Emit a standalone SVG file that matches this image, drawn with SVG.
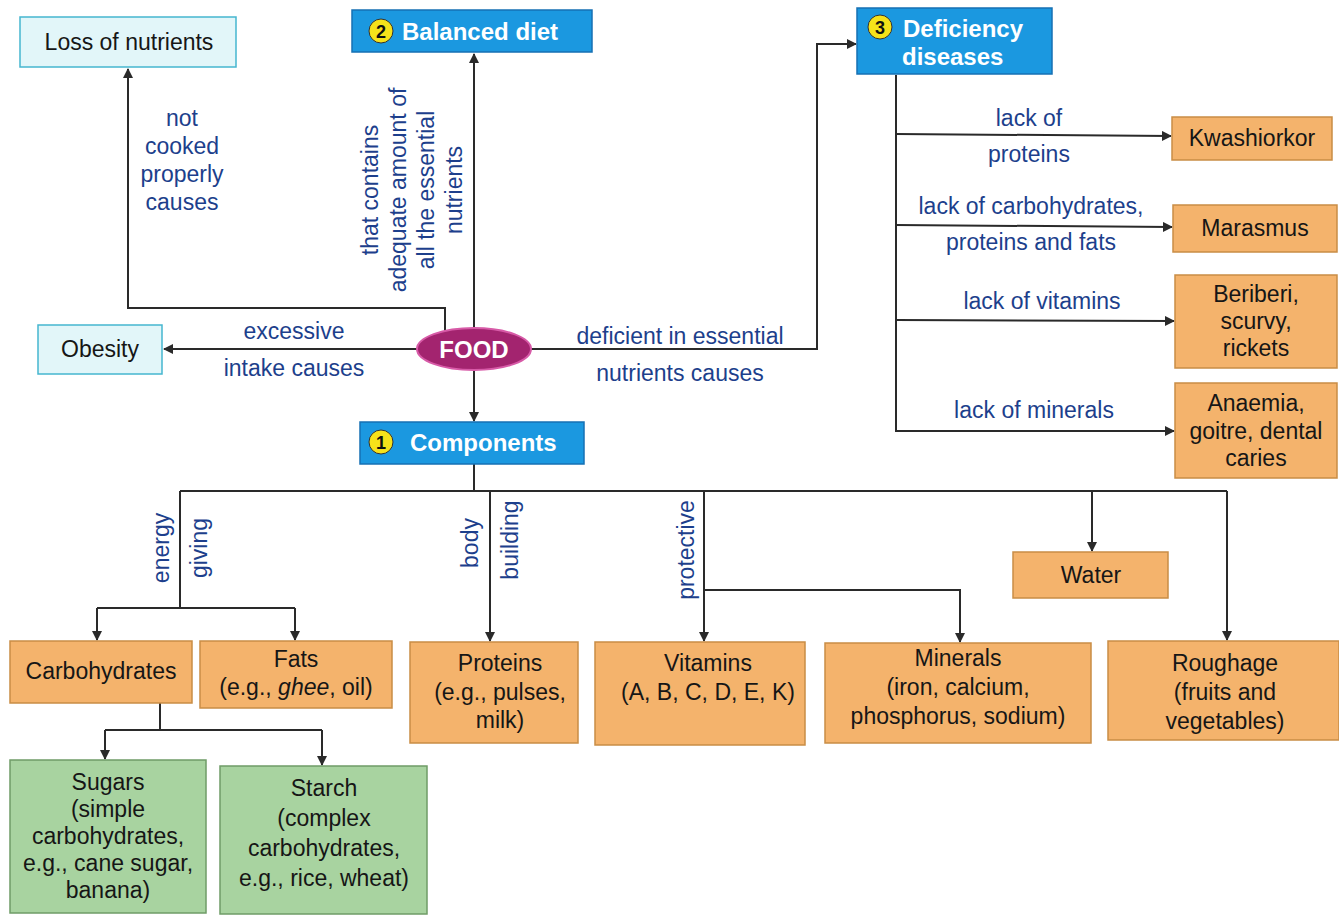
<svg xmlns="http://www.w3.org/2000/svg" width="1339" height="915" viewBox="0 0 1339 915">
<defs>
<marker id="ah" viewBox="0 0 10 10" refX="9" refY="5" markerWidth="10" markerHeight="10" markerUnits="userSpaceOnUse" orient="auto">
<path d="M0,0 L10,5 L0,10 z" fill="#2a2a2a"/>
</marker>
<style>
.t{font-family:"Liberation Sans",Arial,sans-serif;font-size:23px;fill:#161616;text-anchor:middle}
.lb{font-family:"Liberation Sans",Arial,sans-serif;font-size:23px;fill:#1d3f8c;text-anchor:middle}
.hd{font-family:"Liberation Sans",Arial,sans-serif;font-size:24px;font-weight:bold;fill:#ffffff}
.num{font-family:"Liberation Sans",Arial,sans-serif;font-size:18px;font-weight:bold;fill:#111;text-anchor:middle}
.cy{fill:#e2f6f9;stroke:#45b6cf;stroke-width:1.5}
.bl{fill:#1b98e0;stroke:#1670b4;stroke-width:1.5}
.or{fill:#f4b36c;stroke:#c98d45;stroke-width:1.5}
.gr{fill:#a8d3a0;stroke:#6f9c67;stroke-width:1.5}
.yc{fill:#f6e21a;stroke:#333;stroke-width:1}
.c{fill:none;stroke:#2a2a2a;stroke-width:2}
</style>
</defs>

<g id="connectors">
<polyline class="c" points="445,332 445,308 128,308 128,69" marker-end="url(#ah)"/>
<polyline class="c" points="474,328 474,54" marker-end="url(#ah)"/>
<polyline class="c" points="417,349 164,349" marker-end="url(#ah)"/>
<polyline class="c" points="531,349 817,349 817,44 856,44" marker-end="url(#ah)"/>
<polyline class="c" points="474,371 474,421" marker-end="url(#ah)"/>
<polyline class="c" points="896,75 896,431 1174,431" marker-end="url(#ah)"/>
<polyline class="c" points="896,134 1171,136" marker-end="url(#ah)"/>
<polyline class="c" points="896,225 1172,227" marker-end="url(#ah)"/>
<polyline class="c" points="896,320 1174,321" marker-end="url(#ah)"/>
<polyline class="c" points="474,464 474,491"/>
<polyline class="c" points="180,491 1227,491"/>
<polyline class="c" points="180,491 180,608"/>
<polyline class="c" points="97,608 295,608"/>
<line class="c" x1="97" y1="608" x2="97" y2="640" marker-end="url(#ah)"/>
<line class="c" x1="295" y1="608" x2="295" y2="640" marker-end="url(#ah)"/>
<line class="c" x1="490" y1="491" x2="490" y2="641" marker-end="url(#ah)"/>
<line class="c" x1="704" y1="491" x2="704" y2="641" marker-end="url(#ah)"/>
<polyline class="c" points="704,590 960,590 960,642" marker-end="url(#ah)"/>
<line class="c" x1="1092" y1="491" x2="1092" y2="551" marker-end="url(#ah)"/>
<line class="c" x1="1227" y1="491" x2="1227" y2="640" marker-end="url(#ah)"/>
<polyline class="c" points="160,703 160,730"/>
<polyline class="c" points="105,730 322,730"/>
<line class="c" x1="105" y1="730" x2="105" y2="759" marker-end="url(#ah)"/>
<line class="c" x1="322" y1="730" x2="322" y2="765" marker-end="url(#ah)"/>
</g>

<g id="connector-labels">
<text class="lb" x="182" y="126">not</text>
<text class="lb" x="182" y="154">cooked</text>
<text class="lb" x="182" y="182">properly</text>
<text class="lb" x="182" y="210">causes</text>
<g transform="translate(412,190) rotate(-90)">
<text class="lb" x="0" y="-34">that contains</text>
<text class="lb" x="0" y="-6">adequate amount of</text>
<text class="lb" x="0" y="22">all the essential</text>
<text class="lb" x="0" y="50">nutrients</text>
</g>
<text class="lb" x="294" y="339">excessive</text>
<text class="lb" x="294" y="376">intake causes</text>
<text class="lb" x="680" y="344">deficient in essential</text>
<text class="lb" x="680" y="381">nutrients causes</text>
<text class="lb" x="1029" y="126">lack of</text>
<text class="lb" x="1029" y="162">proteins</text>
<text class="lb" x="1031" y="214">lack of carbohydrates,</text>
<text class="lb" x="1031" y="250">proteins and fats</text>
<text class="lb" x="1042" y="309">lack of vitamins</text>
<text class="lb" x="1034" y="418">lack of minerals</text>
<text class="lb" transform="translate(169,548) rotate(-90)">energy</text>
<text class="lb" transform="translate(207,548) rotate(-90)">giving</text>
<text class="lb" transform="translate(478,543) rotate(-90)">body</text>
<text class="lb" transform="translate(518,540) rotate(-90)">building</text>
<text class="lb" transform="translate(694,550) rotate(-90)">protective</text>
</g>

<g id="loss-of-nutrients">
<rect class="cy" x="20" y="17" width="216" height="50"/>
<text class="t" x="129" y="50">Loss of nutrients</text>
</g>

<g id="balanced-diet">
<rect class="bl" x="352" y="10" width="240" height="42"/>
<circle class="yc" cx="381" cy="31" r="12"/>
<text class="num" x="381" y="37.5">2</text>
<text class="hd" x="402" y="40">Balanced diet</text>
</g>

<g id="deficiency-diseases">
<rect class="bl" x="857" y="8" width="195" height="66"/>
<circle class="yc" cx="880" cy="27" r="12"/>
<text class="num" x="880" y="33.5">3</text>
<text class="hd" x="903" y="37">Deficiency</text>
<text class="hd" x="902" y="65">diseases</text>
</g>

<g id="obesity">
<rect class="cy" x="38" y="325" width="124" height="49"/>
<text class="t" x="100" y="357">Obesity</text>
</g>

<g id="food">
<ellipse cx="474" cy="349" rx="57" ry="21" fill="#a3246f" stroke="#d75aa7" stroke-width="2"/>
<text class="hd" x="474" y="358" text-anchor="middle">FOOD</text>
</g>

<g id="components">
<rect class="bl" x="360" y="422" width="224" height="42"/>
<circle class="yc" cx="381" cy="442" r="12"/>
<text class="num" x="381" y="448.5">1</text>
<text class="hd" x="410" y="451">Components</text>
</g>

<g id="kwashiorkor">
<rect class="or" x="1172" y="117" width="160" height="43"/>
<text class="t" x="1252" y="146">Kwashiorkor</text>
</g>

<g id="marasmus">
<rect class="or" x="1173" y="205" width="164" height="47"/>
<text class="t" x="1255" y="236">Marasmus</text>
</g>

<g id="beriberi">
<rect class="or" x="1175" y="275" width="162" height="93"/>
<text class="t" x="1256" y="302">Beriberi,</text>
<text class="t" x="1256" y="329">scurvy,</text>
<text class="t" x="1256" y="356">rickets</text>
</g>

<g id="anaemia">
<rect class="or" x="1175" y="383" width="162" height="95"/>
<text class="t" x="1256" y="411">Anaemia,</text>
<text class="t" x="1256" y="439">goitre, dental</text>
<text class="t" x="1256" y="466">caries</text>
</g>

<g id="water">
<rect class="or" x="1013" y="552" width="155" height="46"/>
<text class="t" x="1091" y="583">Water</text>
</g>

<g id="carbohydrates">
<rect class="or" x="10" y="641" width="182" height="62"/>
<text class="t" x="101" y="679">Carbohydrates</text>
</g>

<g id="fats">
<rect class="or" x="200" y="641" width="192" height="67"/>
<text class="t" x="296" y="667">Fats</text>
<text class="t" x="296" y="695">(e.g., <tspan font-style="italic">ghee</tspan>, oil)</text>
</g>

<g id="proteins">
<rect class="or" x="410" y="642" width="168" height="101"/>
<text class="t" x="500" y="671">Proteins</text>
<text class="t" x="500" y="700">(e.g., pulses,</text>
<text class="t" x="500" y="728">milk)</text>
</g>

<g id="vitamins">
<rect class="or" x="595" y="642" width="210" height="103"/>
<text class="t" x="708" y="671">Vitamins</text>
<text class="t" x="708" y="700">(A, B, C, D, E, K)</text>
</g>

<g id="minerals">
<rect class="or" x="825" y="643" width="266" height="100"/>
<text class="t" x="958" y="666">Minerals</text>
<text class="t" x="958" y="695">(iron, calcium,</text>
<text class="t" x="958" y="724">phosphorus, sodium)</text>
</g>

<g id="roughage">
<rect class="or" x="1108" y="641" width="231" height="99"/>
<text class="t" x="1225" y="671">Roughage</text>
<text class="t" x="1225" y="700">(fruits and</text>
<text class="t" x="1225" y="729">vegetables)</text>
</g>

<g id="sugars">
<rect class="gr" x="10" y="760" width="196" height="153"/>
<text class="t" x="108" y="790">Sugars</text>
<text class="t" x="108" y="817">(simple</text>
<text class="t" x="108" y="844">carbohydrates,</text>
<text class="t" x="108" y="871">e.g., cane sugar,</text>
<text class="t" x="108" y="898">banana)</text>
</g>

<g id="starch">
<rect class="gr" x="220" y="766" width="207" height="148"/>
<text class="t" x="324" y="796">Starch</text>
<text class="t" x="324" y="826">(complex</text>
<text class="t" x="324" y="856">carbohydrates,</text>
<text class="t" x="324" y="886">e.g., rice, wheat)</text>
</g>
</svg>
